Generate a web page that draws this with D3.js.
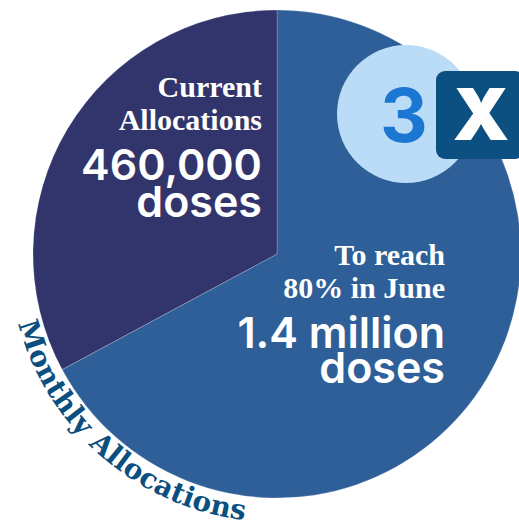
<!DOCTYPE html>
<html>
<head>
<meta charset="utf-8">
<script src="https://cdn.jsdelivr.net/npm/d3@7"></script>
<style>
  body { margin: 0; background: #fff; }
  svg { display: block; }
  .serif { font-family: "Liberation Serif", "Times New Roman", serif; font-weight: bold; }
  .slab { font-family: "DejaVu Serif", serif; font-weight: bold; }
  .sans { font-family: Inter, "Open Sans", sans-serif; font-weight: 600; }
</style>
</head>
<body>
<div id="chart"></div>
<script>
// slices of the 1.4 million target
var sliceNames = ["Still needed", "Current Allocations"];
var sliceValues = [940000, 460000];

var currentHead = ["Current", "Allocations"];
var currentBody = ["460,000", "doses"];
var targetHead = ["To reach", "80% in June"];
var targetBody = ["1.4 million", "doses"];
var multiplier = ["3", "X"];
var ringLabel = "Monthly Allocations";

var width = 519, height = 527;
var cx = 277, cy = 254, radius = 244;

var color = d3.scaleOrdinal()
    .domain(sliceNames)
    .range(["#2f5f98", "#31356b"]);

var svg = d3.select("#chart").append("svg")
    .attr("width", width)
    .attr("height", height);

var pie = d3.pie().sort(null).value(function(d, i) { return sliceValues[i]; });
var arc = d3.arc().innerRadius(0).outerRadius(radius);

var g = svg.append("g")
    .attr("transform", "translate(" + cx + "," + cy + ")");

g.selectAll("path.slice")
    .data(pie(sliceNames))
    .enter().append("path")
    .attr("class", "slice")
    .attr("d", arc)
    .style("fill", function(d) { return color(d.data); })
    .style("stroke", "rgba(255,255,255,0.25)")
    .style("stroke-width", 0.8);

// text blocks inside the slices
function block(x, y, head, body, gap) {
    var t = svg.append("g").attr("transform", "translate(" + x + "," + y + ")");
    head.forEach(function(s, i) {
        t.append("text").attr("class", "serif")
            .attr("y", i * 33)
            .attr("text-anchor", "end")
            .style("font-size", "30px")
            .style("fill", "#fff")
            .text(s);
    });
    body.forEach(function(s, i) {
        t.append("text").attr("class", "sans")
            .attr("y", 83 + i * gap)
            .attr("text-anchor", "end")
            .style("font-size", "43px")
            .style("fill", "#fff")
            .text(s);
    });
}
block(262, 97, currentHead, currentBody, 37);
block(445, 265, targetHead, targetBody, 35);

// 3X badge
svg.append("circle")
    .attr("cx", 406).attr("cy", 114).attr("r", 69)
    .style("fill", "#bbdcf7");

svg.append("text").attr("class", "sans")
    .attr("x", 404).attr("y", 142)
    .attr("text-anchor", "middle")
    .style("font-size", "74px")
    .style("font-weight", 700)
    .style("fill", "#1c77d2")
    .text(multiplier[0]);

svg.append("rect")
    .attr("x", 436).attr("y", 71)
    .attr("width", 88).attr("height", 88)
    .attr("rx", 9)
    .style("fill", "#0b5080");

svg.append("text").attr("class", "sans")
    .attr("x", 481).attr("y", 140)
    .attr("text-anchor", "middle")
    .style("font-size", "72px")
    .style("font-weight", 900)
    .style("fill", "#fff")
    .text(multiplier[1]);

// curved label round the left of the pie
var ringR = 268, a0 = 255 * Math.PI / 180, a1 = 187 * Math.PI / 180;
function pt(a) { return [cx + ringR * Math.sin(a), cy - ringR * Math.cos(a)]; }
var p0 = pt(a0), p1 = pt(a1 - 0.1);

svg.append("path")
    .attr("id", "ring")
    .attr("d", "M" + p0 + "A" + ringR + "," + ringR + " 0 0 0 " + p1)
    .style("fill", "none");

var probe = svg.append("text").attr("class", "slab")
    .style("font-size", "28px")
    .text(ringLabel);
var len = probe.node().getComputedTextLength();
probe.remove();
var spacing = ((a0 - a1) * ringR - len) / (ringLabel.length - 1);

svg.append("text").attr("class", "slab")
    .style("font-size", "28px")
    .style("letter-spacing", spacing + "px")
    .style("fill", "#0b4f7f")
    .append("textPath")
    .attr("href", "#ring")
    .text(ringLabel);
</script>
</body>
</html>
